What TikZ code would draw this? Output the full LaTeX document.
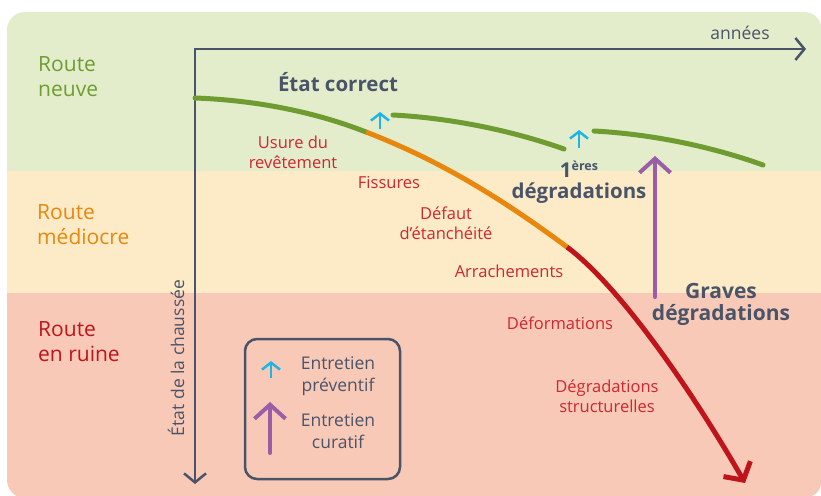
\documentclass[tikz,border=0pt]{standalone}
\usepackage{fontspec}
\setmainfont{Open Sans}
\usetikzlibrary{arrows.meta,positioning}

\definecolor{slate}{HTML}{4A5468}
\definecolor{bandgreen}{HTML}{E3EDCC}
\definecolor{bandbeige}{HTML}{FDEBC7}
\definecolor{bandpink}{HTML}{F9C9B8}
\definecolor{roadgreen}{HTML}{6F9C31}
\definecolor{roadorange}{HTML}{E8870E}
\definecolor{roadred}{HTML}{C0141B}
\definecolor{labelred}{HTML}{D0262E}
\definecolor{prevcyan}{HTML}{1EB4E4}
\definecolor{curpurple}{HTML}{9A5DA6}

\begin{document}
\begin{tikzpicture}[x=1pt,y=-1pt]
  \tikzset{
    axis/.style={draw=slate, line width=2.5pt, miter limit=4,
      {Straight Barb[length=9pt,width=22pt]}-{Straight Barb[length=9pt,width=22pt]}},
    road/.style={line width=5pt, line cap=round},
    zone/.style={anchor=west, align=left, inner sep=0pt, font=\fontsize{21}{25}\selectfont},
    defect/.style={text=labelred, align=center, inner sep=0pt, font=\fontsize{16.5}{20}\selectfont},
    stage/.style={text=slate, align=center, inner sep=0pt, font=\bfseries\fontsize{20.5}{22}\selectfont},
    legtext/.style={text=slate, align=center, inner sep=0pt, font=\fontsize{17.5}{22}\selectfont},
    preventive/.style={draw=prevcyan, line width=2.5pt, -{Straight Barb[length=7pt,width=18pt]}},
    curative/.style={draw=curpurple, line width=4pt, line cap=round, -{Straight Barb[length=14pt,width=31pt]}},
  }
  \useasboundingbox (0,0) rectangle (821,495);

  % bands
  \begin{scope}
    \clip[rounded corners=18pt] (7,12) rectangle (822,498);
    \fill[bandgreen] (0,0) rectangle (830,171);
    \fill[bandbeige] (0,171) rectangle (830,293);
    \fill[bandpink] (0,293) rectangle (830,500);
  \end{scope}

  \node[zone, text=roadgreen] (neuve) at (38,77) {Route\\neuve};
  \node[zone, text=roadorange] (mediocre) at (37,225) {Route\\médiocre};
  \node[zone, text=roadred] (ruine) at (38,342) {Route\\en ruine};

  % axes
  \coordinate (origin) at (195,49);
  \coordinate (tend) at (806,49);
  \coordinate (send) at (195,484);
  \draw[axis] (tend) -- (origin) -- (send);
  \node[legtext] (annees) at (740,33) {années};
  \node[legtext, rotate=90] (etat) at (176,358) {État de la chaussée};

  % road condition
  \coordinate (new) at (195,98);
  \coordinate (wear) at (366,132);
  \coordinate (tear) at (567,247);
  \coordinate (ruin) at (745,483);
  \draw[road, roadgreen] (new) .. controls (250,100) and (310,110) .. (wear);
  \draw[road, roadorange, line cap=butt] (wear) .. controls (436,159) and (497,195) .. (tear);
  \draw[line width=5pt, roadred, -{Straight Barb[length=13pt,width=31pt]}]
    (tear) .. controls (627,292) and (705,413) .. (ruin);
  \coordinate (fix1) at (393,115);
  \coordinate (end1) at (564,149);
  \coordinate (fix2) at (594,131);
  \coordinate (end2) at (763,165);
  \draw[road, roadgreen] (fix1) .. controls (450,118) and (510,130) .. (end1);
  \draw[road, roadgreen] (fix2) .. controls (650,134) and (710,146) .. (end2);

  % maintenance
  \coordinate (p1a) at (380,129);
  \coordinate (p1b) at (380,112);
  \coordinate (p2a) at (579,148);
  \coordinate (p2b) at (579,130);
  \draw[preventive] (p1a) -- (p1b);
  \draw[preventive] (p2a) -- (p2b);
  \coordinate (c1a) at (655,297);
  \coordinate (c1b) at (655,156);
  \draw[curative] (c1a) -- (c1b);

  \node[stage] (correct) at (338,82) {État correct};
  \node[stage] (first) at (579,169) {1\raisebox{7pt}{\fontsize{12.5}{12.5}\selectfont ères}};
  \node[stage, below=5pt of first] (firstdeg) {dégradations};
  \node[stage, font=\bfseries\fontsize{21}{22}\selectfont] (graves) at (721,304) {Graves\\dégradations};

  \node[defect] (usure) at (293,152) {Usure du\\revêtement};
  \node[defect] (fissures) at (389,183) {Fissures};
  \node[defect] (defaut) at (446,223) {Défaut\\d’étanchéité};
  \node[defect] (arrach) at (509,271) {Arrachements};
  \node[defect] (deform) at (560,323) {Déformations};
  \node[defect] (struct) at (607,396) {Dégradations\\structurelles};

  % legend
  \node[draw=slate, line width=2.5pt, rounded corners=12pt, minimum width=155pt,
    minimum height=140pt, inner sep=0pt] (legend) at (322.5,409) {};
  \coordinate (l1a) at (271,378);
  \coordinate (l1b) at (271,361);
  \coordinate (l2a) at (270,453);
  \coordinate (l2b) at (270,402);
  \draw[preventive] (l1a) -- (l1b);
  \draw[curative] (l2a) -- (l2b);
  \node[legtext] (prev) at (338,376) {Entretien\\préventif};
  \node[legtext] (cura) at (338,431) {Entretien\\curatif};
\end{tikzpicture}
\end{document}
